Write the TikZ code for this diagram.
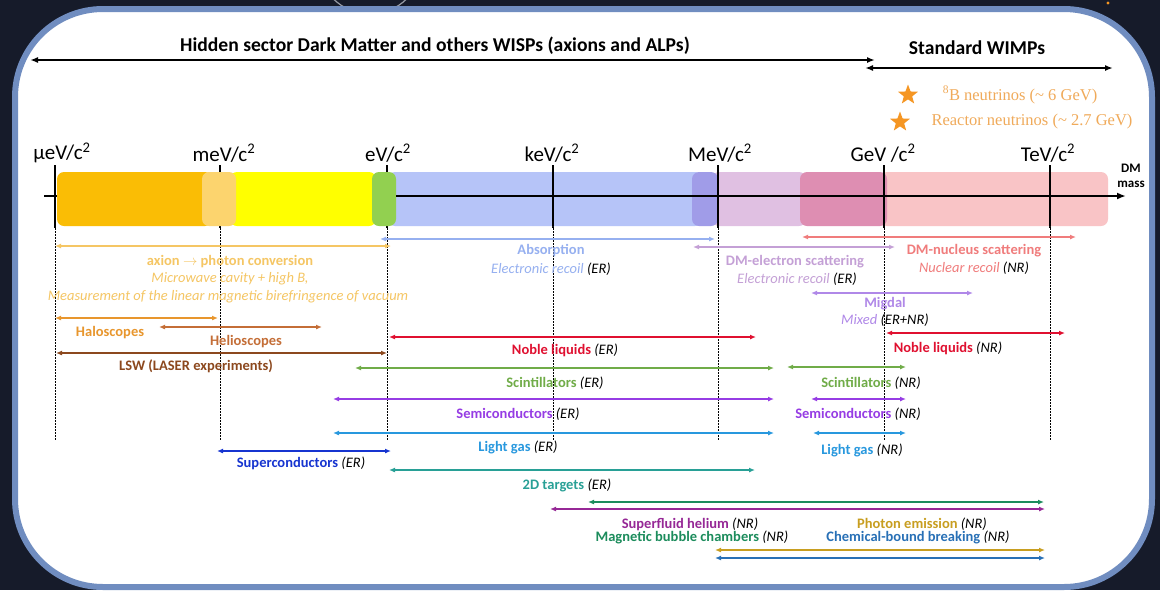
\documentclass[tikz,border=0pt]{standalone}
\usepackage{fontspec}
\setmainfont{Carlito}
\newfontfamily\starfont{Liberation Serif}
\usetikzlibrary{arrows.meta,shapes.geometric}
\definecolor{NightBg}{RGB}{22, 27, 42}
\definecolor{PanelEdge}{RGB}{112, 141, 192}
\definecolor{RingGray}{RGB}{150, 155, 165}
\definecolor{BarOrange}{RGB}{250, 189, 5}
\definecolor{BarPeach}{RGB}{252, 212, 110}
\definecolor{BarYellow}{RGB}{255, 255, 0}
\definecolor{BarGreen}{RGB}{146, 208, 80}
\definecolor{BarBlue}{RGB}{182, 196, 248}
\definecolor{BarViolet}{RGB}{160, 156, 232}
\definecolor{BarLilac}{RGB}{224, 192, 226}
\definecolor{BarPink}{RGB}{222, 142, 178}
\definecolor{BarSalmon}{RGB}{249, 196, 198}
\definecolor{StarOrange}{RGB}{245, 150, 35}
\definecolor{StarText}{RGB}{240, 170, 90}
\definecolor{AxionGold}{RGB}{245, 198, 100}
\definecolor{AbsBlue}{RGB}{150, 176, 240}
\definecolor{HaloOrange}{RGB}{232, 150, 45}
\definecolor{HelioBrown}{RGB}{196, 110, 55}
\definecolor{LSWBrown}{RGB}{140, 72, 30}
\definecolor{NobleRed}{RGB}{224, 16, 48}
\definecolor{ScintGreen}{RGB}{112, 172, 72}
\definecolor{SemiViolet}{RGB}{150, 60, 228}
\definecolor{GasBlue}{RGB}{40, 152, 222}
\definecolor{SuperBlue}{RGB}{22, 52, 208}
\definecolor{FlatTeal}{RGB}{40, 160, 150}
\definecolor{BubbleGreen}{RGB}{28, 140, 92}
\definecolor{HeliumPlum}{RGB}{150, 40, 150}
\definecolor{PhotonGold}{RGB}{200, 158, 32}
\definecolor{BondBlue}{RGB}{40, 112, 182}
\definecolor{NucSalmon}{RGB}{240, 124, 124}
\definecolor{ElecLilac}{RGB}{196, 160, 214}
\definecolor{MigdalLav}{RGB}{176, 136, 232}
\newcommand{\recoil}[1]{\textcolor{black}{\textit{(#1)}}}
\newcommand{\rng}[5]{%
  \coordinate (#1L) at (#3,#5);
  \coordinate (#1R) at (#4,#5);
  \draw[rangearrow,#2] (#1L) -- (#1R);}
\tikzset{
  rangearrow/.style={line width=1.4pt, {Latex[length=6pt,width=5pt]}-{Latex[length=6pt,width=5pt]}},
  spanarrow/.style={line width=2pt, {Latex[length=8pt,width=6pt]}-{Latex[length=8pt,width=6pt]}},
  head/.style={font=\bfseries\fontsize{19.6}{21}\selectfont, inner sep=0pt},
  unit/.style={font=\fontsize{21}{23}\selectfont, inner sep=0pt},
  lbl/.style={font=\fontsize{14.5}{16}\selectfont, inner sep=0pt},
  startext/.style={font=\starfont\fontsize{16.5}{18}\selectfont, text=StarText, inner sep=0pt},
  starmark/.style={star, star points=5, star point ratio=2.4, fill=StarOrange, minimum size=21pt, inner sep=0pt},
  tickline/.style={line width=1.5pt},
  dotline/.style={line width=0.8pt, dash pattern=on 1.5pt off 1.5pt}
}
\begin{document}
\begin{tikzpicture}[x=1pt,y=-1pt]
  \useasboundingbox (0,0) rectangle (1160,590);
  \fill[NightBg] (0,0) rectangle (1160,590);
  \draw[RingGray, line width=1.2pt] (370,-38) circle (52);
  \fill[StarOrange] (1108,3) circle (1.6);
  \draw[PanelEdge, fill=white, line width=6pt, rounded corners=88pt] (15,9) rectangle (1152,587);

  % dark matter families
  \node[head] (hidden) at (435,46) {Hidden sector Dark Matter and others WISPs (axions and ALPs)};
  \coordinate (hiddenL) at (30,60);
  \coordinate (hiddenR) at (875,60);
  \draw[spanarrow] (hiddenL) -- (hiddenR);
  \node[head] (wimps) at (977,48) {Standard WIMPs};
  \coordinate (wimpsL) at (865,68);
  \coordinate (wimpsR) at (1113,68);
  \draw[spanarrow] (wimpsL) -- (wimpsR);
  \node[starmark] (star8B) at (908,95) {};
  \node[startext] (nu8B) at (1020,95) {\textsuperscript{8}B neutrinos (\textasciitilde{} 6 GeV)};
  \node[starmark] (starReac) at (900,122) {};
  \node[startext] (nuReac) at (1032,122) {Reactor neutrinos (\textasciitilde{} 2.7 GeV)};

  % mass scale
  \foreach \x/\lx/\u in {55/62/µeV, 220/224/meV, 387/388/eV, 553/552/keV, 718/720/MeV, 884/883/{GeV }, 1050/1048/TeV} {
    \draw[tickline] (\x,165) -- (\x,228);
    \draw[dotline] (\x,228) -- (\x,440);
    \node[unit] at (\lx,153) {\u/c\textsuperscript{2}};
  }
  \foreach \a/\b/\c in {57/212/BarOrange, 230/376/BarYellow, 202/236/BarPeach, 388/702/BarBlue, 372/396/BarGreen, 712/806/BarLilac, 692/718/BarViolet, 880/1108/BarSalmon, 800/887/BarPink}
    \fill[\c, rounded corners=7pt] (\a,172) rectangle (\b,226);
  \foreach \x in {553,718,884,1050}
    \draw[tickline] (\x,172) -- (\x,226);
  \coordinate (axisL) at (44,196);
  \coordinate (axisM) at (57,196);
  \coordinate (axisN) at (396,196);
  \coordinate (axisR) at (1126,196);
  \draw[line width=2.5pt] (axisL) -- (axisM);
  \draw[line width=2.5pt, -{Latex[length=9pt,width=7pt]}] (axisN) -- (axisR);
  \node[font=\bfseries\fontsize{13}{15}\selectfont, align=center, inner sep=0pt] (dmmass) at (1131,176) {DM\\mass};

  % detection channels
  \rng{axion}{AxionGold}{55}{391}{246}
  \node[lbl, text=AxionGold] (axionA) at (230,262) {\textbf{axion $\rightarrow$ photon conversion}};
  \node[lbl, text=AxionGold] (axionB) at (230,279) {\textit{Microwave cavity + high B,}};
  \node[lbl, text=AxionGold] (axionC) at (228,297) {\textit{Measurement of the linear magnetic birefringence of vacuum}};
  \rng{absorb}{AbsBlue}{380}{715}{239}
  \node[lbl, text=AbsBlue] (absorbA) at (551,251) {\textbf{Absorption}};
  \node[lbl, text=AbsBlue] (absorbB) at (551,269) {\textit{Electronic recoil} \recoil{ER}};
  \rng{elec}{ElecLilac}{693}{895}{247}
  \node[lbl, text=ElecLilac] (elecA) at (795,262) {\textbf{DM-electron scattering}};
  \node[lbl, text=ElecLilac] (elecB) at (797,279) {\textit{Electronic recoil} \recoil{ER}};
  \rng{nuc}{NucSalmon}{802}{1076}{237}
  \node[lbl, text=NucSalmon] (nucA) at (974,251) {\textbf{DM-nucleus scattering}};
  \node[lbl, text=NucSalmon] (nucB) at (974,268) {\textit{Nuclear recoil} \recoil{NR}};
  \rng{migdal}{MigdalLav}{811}{973}{293}
  \node[lbl, text=MigdalLav] (migdalA) at (885,304) {\textbf{Migdal}};
  \node[lbl, text=MigdalLav] (migdalB) at (885,320) {\textit{Mixed} \recoil{ER+NR}};

  \rng{halo}{HaloOrange}{55}{218}{318}
  \node[lbl, text=HaloOrange] (halo) at (110,333) {\textbf{Haloscopes}};
  \rng{helio}{HelioBrown}{159}{322}{327}
  \node[lbl, text=HelioBrown] (helio) at (246,342) {\textbf{Helioscopes}};
  \rng{lsw}{LSWBrown}{56}{387}{353}
  \node[lbl, text=LSWBrown] (lsw) at (196,366) {\textbf{LSW (LASER experiments)}};

  \rng{nobleER}{NobleRed}{389}{756}{337}
  \node[lbl, text=NobleRed] (nobleERt) at (565,350) {\textbf{Noble liquids} \recoil{ER}};
  \rng{nobleNR}{NobleRed}{886}{1065}{333}
  \node[lbl, text=NobleRed] (nobleNRt) at (948,348) {\textbf{Noble liquids} \recoil{NR}};
  \rng{scintER}{ScintGreen}{355}{774}{368}
  \node[lbl, text=ScintGreen] (scintERt) at (555,383) {\textbf{Scintillators} \recoil{ER}};
  \rng{scintNR}{ScintGreen}{787}{906}{367}
  \node[lbl, text=ScintGreen] (scintNRt) at (871,383) {\textbf{Scintillators} \recoil{NR}};
  \rng{semiER}{SemiViolet}{333}{774}{399}
  \node[lbl, text=SemiViolet] (semiERt) at (518,414) {\textbf{Semiconductors} \recoil{ER}};
  \rng{semiNR}{SemiViolet}{811}{906}{399}
  \node[lbl, text=SemiViolet] (semiNRt) at (858,414) {\textbf{Semiconductors} \recoil{NR}};
  \rng{gasER}{GasBlue}{333}{774}{433}
  \node[lbl, text=GasBlue] (gasERt) at (518,447) {\textbf{Light gas} \recoil{ER}};
  \rng{gasNR}{GasBlue}{813}{906}{433}
  \node[lbl, text=GasBlue] (gasNRt) at (862,450) {\textbf{Light gas} \recoil{NR}};
  \rng{super}{SuperBlue}{217}{391}{451}
  \node[lbl, text=SuperBlue] (supert) at (301,463) {\textbf{Superconductors} \recoil{ER}};
  \rng{flat}{FlatTeal}{389}{755}{470}
  \node[lbl, text=FlatTeal] (flatt) at (567,485) {\textbf{2D targets} \recoil{ER}};

  \rng{bubble}{BubbleGreen}{588}{1044}{502}
  \rng{helium}{HeliumPlum}{550}{1045}{509}
  \node[lbl, text=HeliumPlum] (heliumt) at (690,524) {\textbf{Superfluid helium} \recoil{NR}};
  \node[lbl, text=BubbleGreen] (bubblet) at (692,537) {\textbf{Magnetic bubble chambers} \recoil{NR}};
  \rng{photon}{PhotonGold}{715}{1045}{550}
  \rng{bond}{BondBlue}{715}{1045}{558}
  \node[lbl, text=PhotonGold] (photont) at (922,524) {\textbf{Photon emission} \recoil{NR}};
  \node[lbl, text=BondBlue] (bondt) at (918,537) {\textbf{Chemical-bound breaking} \recoil{NR}};
\end{tikzpicture}
\end{document}
